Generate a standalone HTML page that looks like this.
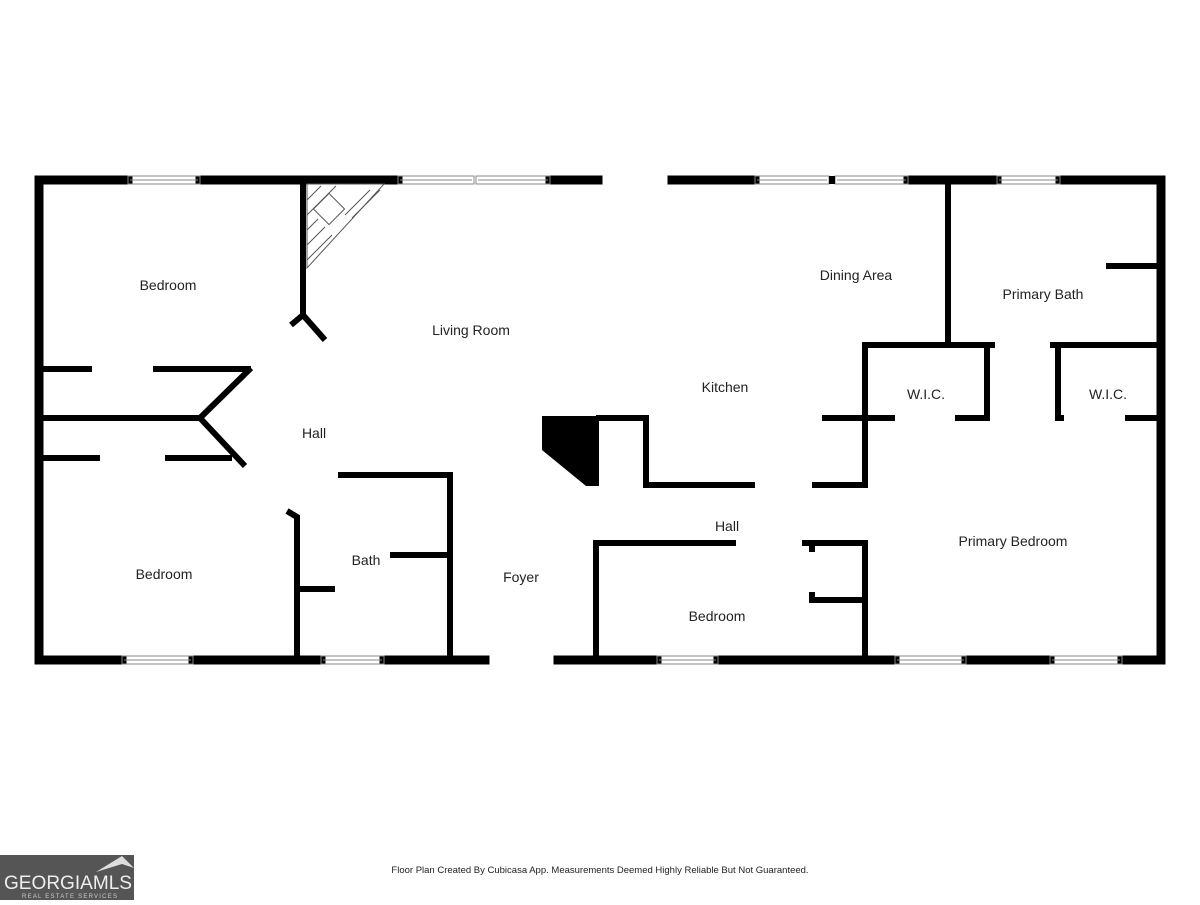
<!DOCTYPE html>
<html><head><style>
body{margin:0;width:1200px;height:900px;background:#fff;overflow:hidden}
svg text{font-family:"Liberation Sans",sans-serif;fill:#222}
</style></head><body>
<svg width="1200" height="900" viewBox="0 0 1200 900">
<g stroke="#000" stroke-width="9" stroke-linecap="square" fill="none">
<!-- top -->
<line x1="39" y1="180" x2="128" y2="180"/><line x1="200" y1="180" x2="398" y2="180"/>
<line x1="550" y1="180" x2="598" y2="180"/><line x1="672" y1="180" x2="755" y2="180"/>
<line x1="908" y1="180" x2="997" y2="180"/><line x1="1060" y1="180" x2="1161" y2="180"/>
<!-- bottom -->
<line x1="39" y1="660" x2="122" y2="660"/><line x1="193" y1="660" x2="321" y2="660"/>
<line x1="384" y1="660" x2="485" y2="660"/><line x1="558" y1="660" x2="657" y2="660"/>
<line x1="718" y1="660" x2="895" y2="660"/><line x1="966" y1="660" x2="1050" y2="660"/>
<line x1="1122" y1="660" x2="1161" y2="660"/>
<line x1="39" y1="180" x2="39" y2="660"/><line x1="1161" y1="180" x2="1161" y2="660"/>
</g>
<g stroke="#888" stroke-width="1" fill="none">
<rect x="128" y="176" width="72" height="8"/><line x1="130" y1="180" x2="198" y2="180"/>
<rect x="398" y="176" width="76" height="8"/><line x1="400" y1="180" x2="472" y2="180"/>
<rect x="476" y="176" width="74" height="8"/><line x1="478" y1="180" x2="548" y2="180"/>
<rect x="755" y="176" width="74" height="8"/><line x1="757" y1="180" x2="827" y2="180"/>
<rect x="835" y="176" width="73" height="8"/><line x1="837" y1="180" x2="906" y2="180"/>
<rect x="997" y="176" width="63" height="8"/><line x1="999" y1="180" x2="1058" y2="180"/>
<rect x="122" y="656" width="71" height="8"/><line x1="124" y1="660" x2="191" y2="660"/>
<rect x="321" y="656" width="63" height="8"/><line x1="323" y1="660" x2="382" y2="660"/>
<rect x="657" y="656" width="61" height="8"/><line x1="659" y1="660" x2="716" y2="660"/>
<rect x="895" y="656" width="71" height="8"/><line x1="897" y1="660" x2="964" y2="660"/>
<rect x="1050" y="656" width="72" height="8"/><line x1="1052" y1="660" x2="1120" y2="660"/>
</g>
<rect x="829" y="176" width="6" height="8" fill="#000"/>
<!-- stair/fireplace hatch -->
<g stroke="#555" stroke-width="1" fill="none">
<polygon points="307,184 384,184 307,268"/>
<rect x="318" y="198" width="22" height="22" transform="rotate(-45 329 209)"/>
<line x1="307" y1="200" x2="321" y2="186"/><line x1="307" y1="215" x2="336" y2="186"/>
<line x1="307" y1="230" x2="318" y2="219"/><line x1="307" y1="245" x2="325" y2="227"/>
<line x1="307" y1="260" x2="332" y2="235"/><line x1="345" y1="215" x2="370" y2="190"/>
<line x1="352" y1="218" x2="380" y2="190"/>
</g>
<g stroke="#000" stroke-width="6" fill="none">
<line x1="303" y1="180" x2="303" y2="315"/>
<line x1="303" y1="315" x2="325" y2="340"/><line x1="303" y1="315" x2="291" y2="325"/>
<line x1="39" y1="369" x2="92" y2="369"/><line x1="153" y1="369" x2="251" y2="369"/>
<polyline points="251,368 200,418 245,466"/>
<line x1="39" y1="418" x2="200" y2="418"/>
<line x1="39" y1="458" x2="100" y2="458"/><line x1="165" y1="458" x2="232" y2="458"/>
<polyline points="287,511 297,517 297,660"/>
<line x1="297" y1="589" x2="335" y2="589"/>
<polyline points="338,475 450,475 450,660"/>
<line x1="390" y1="555" x2="450" y2="555"/>
<polyline points="596,418 646,418 646,485 755,485"/>
<line x1="596" y1="418" x2="596" y2="486"/>
<line x1="812" y1="485" x2="865" y2="485"/>
<line x1="822" y1="418" x2="865" y2="418"/>
<line x1="865" y1="345" x2="865" y2="488"/>
<line x1="865" y1="540" x2="865" y2="660"/>
<polyline points="736,543 596,543 596,660"/>
<line x1="802" y1="543" x2="865" y2="543"/>
<line x1="810" y1="600" x2="865" y2="600"/>
<line x1="812" y1="543" x2="812" y2="552"/><line x1="812" y1="592" x2="812" y2="603"/>
<line x1="948" y1="180" x2="948" y2="345"/>
<line x1="862" y1="345" x2="995" y2="345"/><line x1="1050" y1="345" x2="1161" y2="345"/>
<line x1="987" y1="345" x2="987" y2="421"/>
<line x1="862" y1="418" x2="895" y2="418"/><line x1="955" y1="418" x2="987" y2="418"/>
<line x1="1058" y1="345" x2="1058" y2="421"/>
<line x1="1058" y1="418" x2="1064" y2="418"/><line x1="1125" y1="418" x2="1161" y2="418"/>
<line x1="1106" y1="266" x2="1161" y2="266"/>
</g>
<polygon points="542,416 596,416 596,486 586,486 542,450" fill="#000"/>
<g font-size="14" text-anchor="middle">
<text x="168" y="290">Bedroom</text>
<text x="471" y="335">Living Room</text>
<text x="856" y="280">Dining Area</text>
<text x="1043" y="299">Primary Bath</text>
<text x="725" y="392">Kitchen</text>
<text x="314" y="438">Hall</text>
<text x="926" y="399">W.I.C.</text>
<text x="1108" y="399">W.I.C.</text>
<text x="727" y="531">Hall</text>
<text x="1013" y="546">Primary Bedroom</text>
<text x="164" y="579">Bedroom</text>
<text x="366" y="565">Bath</text>
<text x="521" y="582">Foyer</text>
<text x="717" y="621">Bedroom</text>
</g>
<text x="600" y="873" font-size="9.5" text-anchor="middle">Floor Plan Created By Cubicasa App. Measurements Deemed Highly Reliable But Not Guaranteed.</text>
<rect x="0" y="855" width="134" height="45" fill="#555"/>
<polygon points="96,872 122,856 134,868 122,864" fill="#ddd"/>
<text x="4" y="889" font-size="19" fill="#eee" style="fill:#eee" textLength="128" lengthAdjust="spacingAndGlyphs">GEORGIAMLS</text>
<text x="22" y="898" font-size="6" style="fill:#ccc" textLength="95">REAL ESTATE SERVICES</text>
</svg>
</body></html>
